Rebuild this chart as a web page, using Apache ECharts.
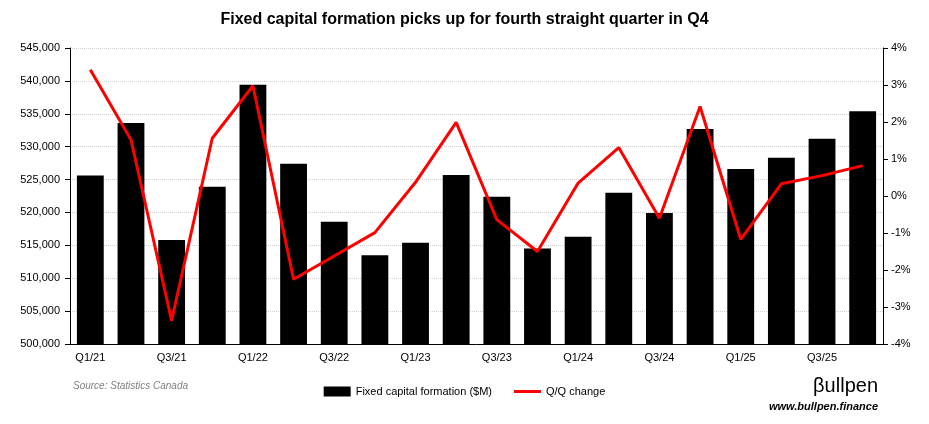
<!DOCTYPE html>
<html><head><meta charset="utf-8">
<script src="https://cdn.jsdelivr.net/npm/echarts@6/dist/echarts.min.js"></script>
<style>html,body{margin:0;padding:0;background:#fff}#c{width:929px;height:424px}</style>
</head><body><div id="c"></div>
<script>
const categories = ['Q1/21','Q2/21','Q3/21','Q4/21','Q1/22','Q2/22','Q3/22','Q4/22','Q1/23','Q2/23','Q3/23','Q4/23','Q1/24','Q2/24','Q3/24','Q4/24','Q1/25','Q2/25','Q3/25','Q4/25'];
const capitalFormation = [525600,533600,515800,523900,539400,527400,518600,513500,515400,525700,522400,514500,516300,523000,519900,532700,526600,528300,531200,535400];
const qqChange = [3.41,1.52,-3.37,1.56,2.98,-2.25,-1.62,-0.99,0.37,1.99,-0.64,-1.50,0.35,1.31,-0.60,2.42,-1.17,0.33,0.55,0.82];

const narrow = "'Liberation Sans Narrow','Liberation Sans',sans-serif";
const chart = echarts.init(document.getElementById('c'));
chart.setOption({
  animation:false,
  title:[
    {text:'Fixed capital formation picks up for fourth straight quarter in Q4',left:'center',top:7,
     textStyle:{fontFamily:"'Liberation Sans',sans-serif",fontWeight:'bold',fontSize:16,color:'#000'}},
    {text:'Source: Statistics Canada',left:68,top:376,
     textStyle:{fontFamily:narrow,fontStyle:'italic',fontWeight:'normal',fontSize:10,color:'#7f7f7f'}},
    {text:'βullpen',right:46,top:371,
     textStyle:{fontFamily:"'Liberation Sans',sans-serif",fontWeight:'normal',fontSize:20,color:'#000'}},
    {text:'www.bullpen.finance',right:46,top:396,
     textStyle:{fontFamily:"'Liberation Sans',sans-serif",fontStyle:'italic',fontWeight:'bold',fontSize:11,color:'#000'}}
  ],
  legend:{
    top:381,left:'center',itemGap:22,itemWidth:27,itemHeight:10,
    textStyle:{fontFamily:narrow,fontSize:11,color:'#000'},
    data:[{name:'Fixed capital formation ($M)',icon:'rect'},
          {name:'Q/Q change',icon:'path://M0,0 H27 V3 H0 Z'}]
  },
  grid:{left:70,right:46,top:48,bottom:80},
  xAxis:{
    type:'category',data:categories,
    axisLine:{onZero:false,lineStyle:{color:'#000',width:1}},
    axisTick:{interval:1,alignWithLabel:false,length:5,lineStyle:{color:'#000'}},
    axisLabel:{interval:1,fontFamily:narrow,fontSize:11,color:'#000',margin:8}
  },
  yAxis:[
    {type:'value',min:500000,max:545000,interval:5000,
     axisLine:{show:true,lineStyle:{color:'#000'}},
     axisTick:{show:true,length:5,inside:false,lineStyle:{color:'#000'}},
     axisLabel:{fontFamily:"'Liberation Sans',sans-serif",fontSize:11,color:'#000',margin:10,
       formatter:v=>v.toLocaleString('en-US')},
     splitLine:{show:true,lineStyle:{color:'#d0d0d0',type:'dotted',width:1}}},
    {type:'value',min:-4,max:4,interval:1,position:'right',
     axisLine:{show:true,lineStyle:{color:'#000'}},
     axisTick:{show:true,length:5,lineStyle:{color:'#000'}},
     axisLabel:{fontFamily:"'Liberation Sans',sans-serif",fontSize:11,color:'#000',margin:8,formatter:v=>v+'%'},
     splitLine:{show:false}}
  ],
  series:[
    {name:'Fixed capital formation ($M)',type:'bar',data:capitalFormation,barCategoryGap:'34%',
     itemStyle:{color:'#000'}},
    {name:'Q/Q change',type:'line',yAxisIndex:1,data:qqChange,symbol:'none',
     lineStyle:{color:'#ff0000',width:3},itemStyle:{color:'#ff0000'}}
  ]
});
</script></body></html>
